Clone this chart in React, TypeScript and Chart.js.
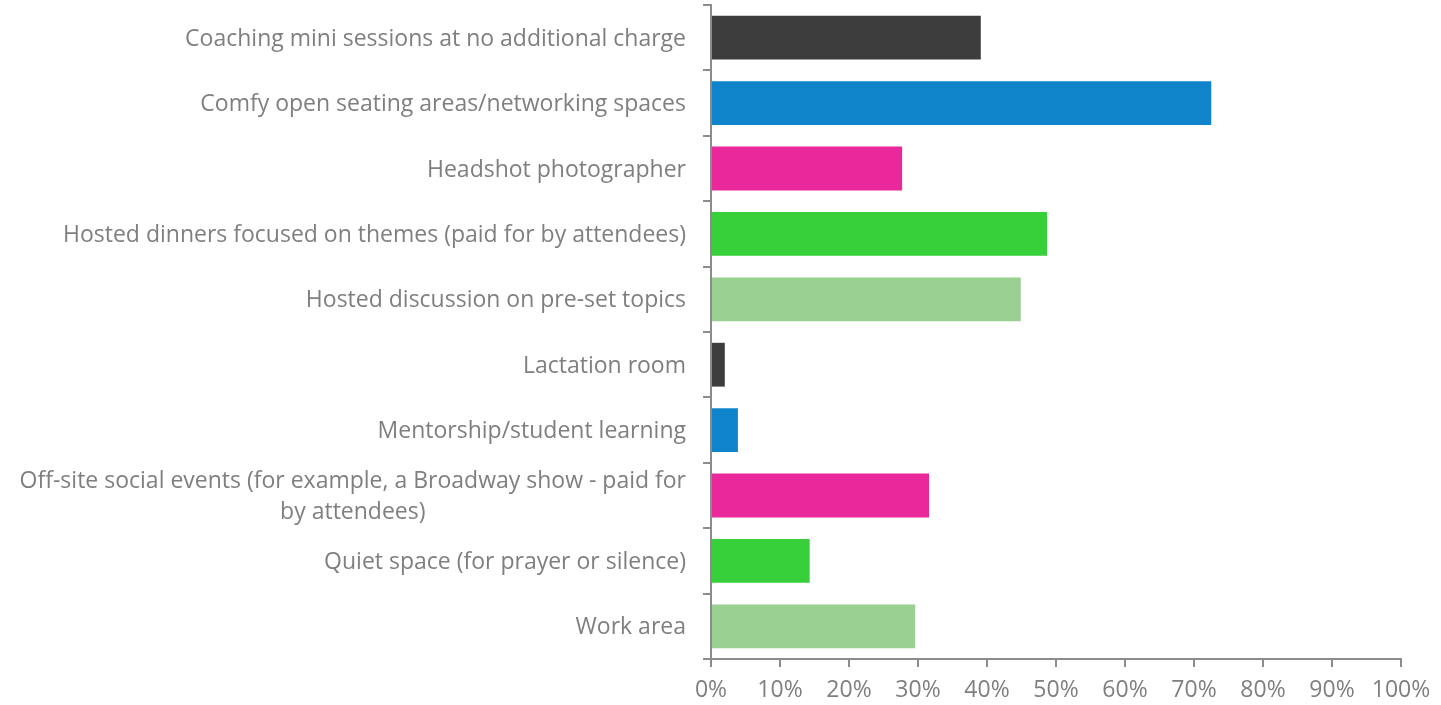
import React, { useEffect, useRef } from "react";
import { Chart, registerables } from "chart.js";

Chart.register(...registerables);

const categories: (string | string[])[] = [
  "Coaching mini sessions at no additional charge",
  "Comfy open seating areas/networking spaces",
  "Headshot photographer",
  "Hosted dinners focused on themes (paid for by attendees)",
  "Hosted discussion on pre-set topics",
  "Lactation room",
  "Mentorship/student learning",
  ["Off-site social events (for example, a Broadway show - paid for", "by attendees)"],
  "Quiet space (for prayer or silence)",
  "Work area",
];

const values = [39.1, 72.5, 27.7, 48.7, 44.9, 2.0, 3.9, 31.6, 14.3, 29.6];

const barColors = [
  "#3d3d3d",
  "#0f84cb",
  "#e8289b",
  "#37cf3a",
  "#9ad092",
  "#3d3d3d",
  "#0f84cb",
  "#e8289b",
  "#37cf3a",
  "#9ad092",
];

const xTicks = [0, 10, 20, 30, 40, 50, 60, 70, 80, 90, 100];

const FONT = "'Open Sans', sans-serif";
const TEXT_COLOR = "#7f7f7f";
const AXIS_COLOR = "#8c8c8c";
const LABEL_SIZE = 23;
const LABEL_LINE = 31;

const categoryLabelsPlugin = {
  id: "categoryLabels",
  afterDraw(chart: any) {
    const scale = chart.scales.y;
    const ctx = chart.ctx;
    const right = scale.right - 25;
    ctx.save();
    ctx.font = `${LABEL_SIZE}px ${FONT}`;
    ctx.fillStyle = TEXT_COLOR;
    ctx.textBaseline = "middle";
    const labels = chart.data.labels as (string | string[])[];
    labels.forEach((lab, i) => {
      const y = scale.getPixelForTick(i) + 1.5;
      const lines = Array.isArray(lab) ? lab : [lab];
      if (lines.length === 1) {
        ctx.textAlign = "right";
        ctx.fillText(lines[0], right, y);
      } else {
        const widest = Math.max(...lines.map((l) => ctx.measureText(l).width));
        const cx = right - widest / 2;
        ctx.textAlign = "center";
        const start = y - ((lines.length - 1) * LABEL_LINE) / 2;
        lines.forEach((l, k) => ctx.fillText(l, cx, start + k * LABEL_LINE));
      }
    });
    ctx.restore();
  },
};

export default function App() {
  const ref = useRef<HTMLCanvasElement | null>(null);

  useEffect(() => {
    if (!ref.current) return;
    const chart = new Chart(ref.current, {
      type: "bar",
      data: {
        labels: categories,
        datasets: [
          {
            data: values,
            backgroundColor: barColors,
            borderWidth: 0,
            categoryPercentage: 1,
            barPercentage: 0.67,
          },
        ],
      },
      plugins: [categoryLabelsPlugin],
      options: {
        indexAxis: "y",
        animation: false,
        responsive: true,
        maintainAspectRatio: false,
        layout: { padding: { top: 5, right: 40, left: 0, bottom: 0 } },
        plugins: { legend: { display: false }, tooltip: { enabled: false } },
        scales: {
          y: {
            afterFit: (s: any) => {
              s.width = 711;
              s.paddingTop = 0;
              s.paddingBottom = 0;
            },
            grid: {
              display: true,
              drawOnChartArea: false,
              drawTicks: true,
              tickLength: 8,
              color: AXIS_COLOR,
              lineWidth: 2,
              offset: true,
            },
            border: { display: true, color: AXIS_COLOR, width: 2 },
            ticks: { display: false },
          },
          x: {
            min: 0,
            max: 100,
            afterFit: (s: any) => {
              s.height = 46;
            },
            afterBuildTicks: (s: any) => {
              s.ticks = xTicks.map((v) => ({ value: v }));
            },
            grid: {
              display: true,
              drawOnChartArea: false,
              drawTicks: true,
              tickLength: 8,
              color: AXIS_COLOR,
              lineWidth: 2,
            },
            border: { display: true, color: AXIS_COLOR, width: 2 },
            ticks: {
              color: TEXT_COLOR,
              padding: 10,
              maxRotation: 0,
              autoSkip: false,
              font: { family: FONT, size: LABEL_SIZE },
              callback: (v: any) => `${v}%`,
            },
          },
        },
      },
    });
    return () => chart.destroy();
  }, []);

  return (
    <div style={{ position: "fixed", left: 0, top: 0, width: "100vw", height: "100vh", background: "#fff" }}>
      <canvas ref={ref} />
    </div>
  );
}
